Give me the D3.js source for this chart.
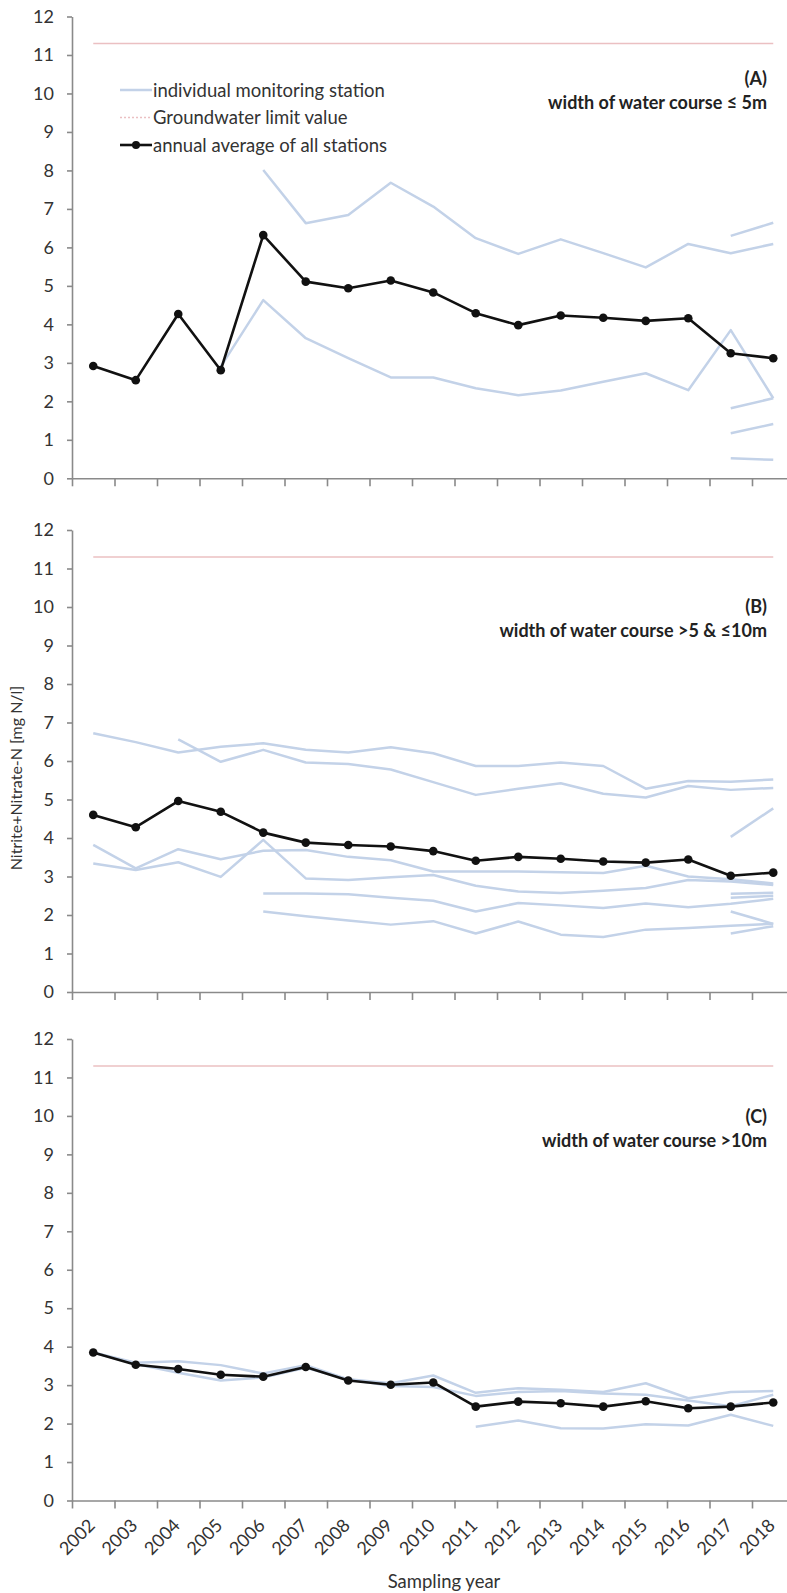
<!DOCTYPE html>
<html>
<head>
<meta charset="utf-8">
<script src="https://cdn.jsdelivr.net/npm/d3@7"></script>
<style>
  body { margin: 0; background: #fff; }
  svg { display: block; font-family: Lato, "Open Sans", sans-serif; }
  .axis path, .axis line { stroke: #8a8a8a; stroke-width: 1.6; }
  .axis text { fill: #333; font-size: 18px; font-family: Lato, sans-serif; }
  .station { fill: none; stroke: #c3d2e8; stroke-width: 2.5; stroke-linejoin: round; }
  .avg { fill: none; stroke: #111; stroke-width: 2.6; stroke-linejoin: round; }
  .limit { stroke: #ebc0c2; stroke-width: 1.5; }
</style>
</head>
<body>
<div id="chart"></div>
<script>
const years = ['2002', '2003', '2004', '2005', '2006', '2007', '2008', '2009', '2010',
  '2011', '2012', '2013', '2014', '2015', '2016', '2017', '2018'];
const yTicks = [0, 1, 2, 3, 4, 5, 6, 7, 8, 9, 10, 11, 12];
const limitValue = 11.3;

const _ = null;

// (A) width <= 5m
const avgA = [2.92, 2.55, 4.27, 2.81, 6.32, 5.11, 4.94, 5.14, 4.83, 4.29, 3.98, 4.23, 4.17, 4.09, 4.16, 3.25, 3.12];
const stationsA = [
  [_, _, _, _, 8.01, 6.63, 6.84, 7.68, 7.06, 6.24, 5.83, 6.21, 5.85, 5.48, 6.09, 5.85, 6.09],
  [_, _, _, 2.9, 4.63, 3.64, 3.12, 2.62, 2.62, 2.34, 2.16, 2.28, 2.51, 2.73, 2.29, 3.85, 2.08],
  [_, _, _, _, _, _, _, _, _, _, _, _, _, _, _, 6.3, 6.64],
  [_, _, _, _, _, _, _, _, _, _, _, _, _, _, _, 1.82, 2.08],
  [_, _, _, _, _, _, _, _, _, _, _, _, _, _, _, 1.17, 1.41],
  [_, _, _, _, _, _, _, _, _, _, _, _, _, _, _, 0.52, 0.48]
];

// (B) width >5 & <=10m
const avgB = [4.6, 4.28, 4.96, 4.68, 4.14, 3.88, 3.82, 3.78, 3.66, 3.41, 3.51, 3.46, 3.39, 3.36, 3.44, 3.02, 3.1];
const stationsB = [
  [6.72, 6.49, 6.22, 6.37, 6.46, 6.29, 6.22, 6.36, 6.2, 5.87, 5.87, 5.96, 5.87, 5.28, 5.48, 5.46, 5.52],
  [_, _, 6.56, 5.98, 6.29, 5.96, 5.92, 5.78, 5.45, 5.12, 5.28, 5.42, 5.15, 5.05, 5.35, 5.25, 5.3],
  [3.82, 3.21, 3.71, 3.45, 3.67, 3.69, 3.51, 3.42, 3.13, 3.13, 3.13, 3.11, 3.09, 3.28, 3.0, 2.93, 2.82],
  [3.34, 3.17, 3.37, 2.99, 3.95, 2.95, 2.91, 2.98, 3.04, 2.76, 2.61, 2.57, 2.63, 2.7, 2.91, 2.87, 2.78],
  [_, _, _, _, 2.56, 2.56, 2.54, 2.45, 2.37, 2.09, 2.31, 2.25, 2.18, 2.3, 2.2, 2.29, 2.42],
  [_, _, _, _, 2.09, 1.97, 1.86, 1.75, 1.84, 1.52, 1.83, 1.49, 1.43, 1.62, 1.66, 1.72, 1.77],
  [_, _, _, _, _, _, _, _, _, _, _, _, _, _, _, 4.03, 4.77],
  [_, _, _, _, _, _, _, _, _, _, _, _, _, _, _, 2.55, 2.58],
  [_, _, _, _, _, _, _, _, _, _, _, _, _, _, _, 2.45, 2.5],
  [_, _, _, _, _, _, _, _, _, _, _, _, _, _, _, 2.09, 1.77],
  [_, _, _, _, _, _, _, _, _, _, _, _, _, _, _, 1.52, 1.71]
];

// (C) width >10m
const avgC = [3.85, 3.53, 3.42, 3.27, 3.22, 3.47, 3.12, 3.01, 3.07, 2.44, 2.57, 2.53, 2.44, 2.58, 2.4, 2.44, 2.55];
const stationsC = [
  [3.85, 3.58, 3.62, 3.52, 3.3, 3.52, 3.15, 3.05, 3.25, 2.8, 2.92, 2.88, 2.82, 3.05, 2.66, 2.82, 2.85],
  [3.85, 3.55, 3.32, 3.12, 3.2, 3.45, 3.15, 2.98, 2.95, 2.72, 2.82, 2.85, 2.78, 2.75, 2.6, 2.45, 2.75],
  [_, _, _, _, _, _, _, _, _, 1.92, 2.08, 1.88, 1.87, 1.98, 1.95, 2.23, 1.94]
];

const legendLabels = ['individual monitoring station', 'Groundwater limit value', 'annual average of all stations'];

const width = 787, height = 1593;
const left = 72, band = 42.5;

const svg = d3.select('#chart').append('svg')
  .attr('width', width)
  .attr('height', height);

const x = d3.scaleBand().domain(years).range([left, left + band * years.length]);
const xc = d => x(d) + x.bandwidth() / 2;
const xEdge = d3.scaleLinear().domain([0, years.length]).range([left, left + band * years.length]);

const panels = [
  { key: 'A', top: 16.5, bottom: 478.3, avg: avgA, stations: stationsA,
    tag: '(A)', title: 'width of water course  \u2264 5m', tagY: 85, titleY: 109 },
  { key: 'B', top: 530, bottom: 992, avg: avgB, stations: stationsB,
    tag: '(B)', title: 'width of water course  >5 & \u226410m', tagY: 613, titleY: 637 },
  { key: 'C', top: 1039, bottom: 1500.5, avg: avgC, stations: stationsC,
    tag: '(C)', title: 'width of water course >10m', tagY: 1123, titleY: 1147 }
];

panels.forEach((p, i) => {
  const y = d3.scaleLinear().domain([0, 12]).range([p.bottom, p.top]);
  const g = svg.append('g').attr('class', 'panel panel-' + p.key);

  // y axis
  g.append('g')
    .attr('class', 'axis axis-y')
    .attr('transform', `translate(${left}, 0)`)
    .call(d3.axisLeft(y).tickValues(yTicks).tickSize(5).tickSizeOuter(0).tickPadding(13));

  // x axis tick marks between categories
  g.append('g')
    .attr('class', 'axis axis-x')
    .attr('transform', `translate(0, ${p.bottom})`)
    .call(d3.axisBottom(xEdge).tickValues(d3.range(years.length + 1)).tickFormat('')
      .tickSize(8).tickSizeOuter(0));

  const line = d3.line()
    .defined(d => d != null)
    .x((d, j) => xc(years[j]))
    .y(d => y(d));

  // station lines
  g.append('g').selectAll('path')
    .data(p.stations)
    .join('path')
    .attr('class', 'station')
    .attr('d', line);

  // groundwater limit
  g.append('line')
    .attr('class', 'limit')
    .attr('x1', xc(years[0]))
    .attr('x2', xc(years[years.length - 1]))
    .attr('y1', y(limitValue))
    .attr('y2', y(limitValue));

  // annual average
  g.append('path')
    .datum(p.avg)
    .attr('class', 'avg')
    .attr('d', line);

  g.append('g').selectAll('circle')
    .data(p.avg)
    .join('circle')
    .attr('cx', (d, j) => xc(years[j]))
    .attr('cy', d => y(d))
    .attr('r', 4.3)
    .attr('fill', '#111');

  // panel title
  const tx = 767;
  g.append('text')
    .attr('x', tx).attr('y', p.tagY)
    .attr('text-anchor', 'end')
    .attr('font-size', 18).attr('font-weight', 'bold').attr('fill', '#222')
    .text(p.tag);
  g.append('text')
    .attr('x', tx).attr('y', p.titleY)
    .attr('text-anchor', 'end')
    .attr('font-size', 18).attr('font-weight', 'bold').attr('fill', '#222')
    .text(p.title);

  // year labels on the bottom panel only
  if (i === panels.length - 1) {
    g.append('g')
      .attr('class', 'axis axis-labels')
      .attr('transform', `translate(0, ${p.bottom})`)
      .call(d3.axisBottom(x).tickSize(0).tickPadding(0))
      .call(s => s.select('.domain').remove())
      .selectAll('text')
      .attr('font-size', 16)
      .attr('text-anchor', 'end')
      .attr('dy', 0)
      .attr('transform', `translate(3, 26) rotate(-45)`);
  }
});

// legend in panel A
const legend = svg.append('g').attr('class', 'legend');
const legendY = [90, 117.5, 145];
legendLabels.forEach((label, i) => {
  const ly = legendY[i];
  const ln = legend.append('line')
    .attr('x1', 120).attr('x2', 152)
    .attr('y1', ly).attr('y2', ly);
  if (i === 0) ln.attr('class', 'station');
  if (i === 1) ln.attr('class', 'limit').attr('stroke', '#d9c9cc').attr('stroke-dasharray', '2,2');
  if (i === 2) {
    ln.attr('class', 'avg');
    legend.append('circle').attr('cx', 136).attr('cy', ly).attr('r', 4).attr('fill', '#111');
  }
  legend.append('text')
    .attr('x', 153).attr('y', ly + 6.5)
    .attr('font-size', 18.5).attr('fill', '#333')
    .text(label);
});

// axis titles
svg.append('text')
  .attr('transform', `translate(22, 778) rotate(-90)`)
  .attr('text-anchor', 'middle')
  .attr('font-size', 16).attr('fill', '#333')
  .text('Nitrite+Nitrate-N [mg N/l]');

svg.append('text')
  .attr('x', 444).attr('y', 1588)
  .attr('text-anchor', 'middle')
  .attr('font-size', 18.5).attr('fill', '#333')
  .text('Sampling year');
</script>
</body>
</html>
